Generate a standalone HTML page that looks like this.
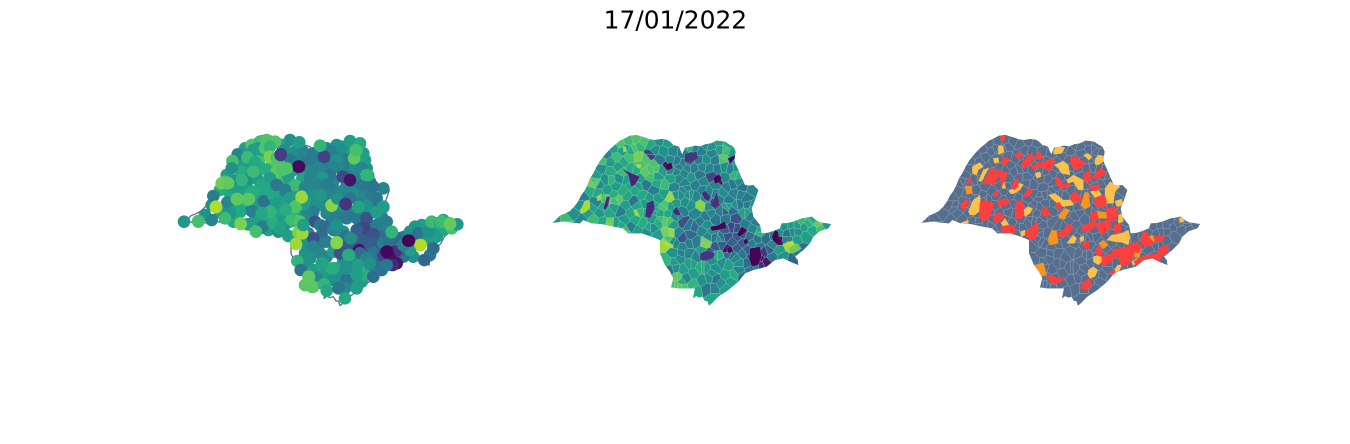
<!DOCTYPE html>
<html lang="en">
<head>
<meta charset="utf-8">
<title>17/01/2022</title>
<style>
html,body{margin:0;padding:0;background:#fff;}
body{width:1350px;height:444px;overflow:hidden;}
svg{display:block;}
text{font-family:"DejaVu Sans","Liberation Sans",sans-serif;}
</style>
</head>
<body>
<svg id="figure" xmlns="http://www.w3.org/2000/svg" width="1350" height="444" viewBox="0 0 1350 444">
  <text x="675.4" y="28.5" text-anchor="middle" font-size="24.9" fill="#000">17/01/2022</text>
  <g id="panel-bubbles"></g>
  <g id="panel-choropleth"></g>
  <g id="panel-status"></g>
</svg>
<script>
// State boundary: east, south (map units)
const stateBoundary = [[22,293],[32,285],[45,272],[60,266],[75,258],[88,245],[100,228],[108,212],[120,195],[128,178],[135,160],[145,145],[155,125],[165,108],[175,95],[188,80],[200,68],[212,58],[225,47],[240,40],[255,32],[275,30],[300,38],[315,43],[330,45],[348,42],[365,44],[375,50],[385,60],[402,65],[407,78],[412,88],[420,68],[435,66],[450,62],[465,64],[480,58],[497,55],[515,47],[540,50],[552,58],[565,65],[572,80],[568,105],[572,118],[578,130],[588,155],[600,180],[612,182],[625,180],[640,195],[635,210],[630,225],[620,250],[625,275],[635,288],[645,300],[650,325],[665,324],[680,320],[705,310],[710,295],[728,294],[745,290],[770,280],[785,278],[800,275],[812,285],[825,292],[858,297],[850,310],[825,318],[805,335],[795,355],[775,375],[750,395],[758,405],[760,420],[740,412],[715,400],[690,405],[665,425],[625,435],[600,445],[580,470],[550,495],[520,515],[500,535],[492,542],[487,528],[480,528],[472,515],[462,518],[454,513],[444,520],[450,490],[425,490],[400,490],[378,487],[385,460],[375,440],[360,420],[345,385],[345,345],[320,335],[290,325],[250,325],[235,310],[205,305],[170,297],[140,295],[115,285],[105,295],[80,293],[60,290],[35,292]];

// Municipalities drawn first (mostly covered): east, south, indicator value (0-1)
const townsInfill = [[225,70,.55],[215,110,.55],[240,125,.55],[270,100,.7],[275,130,.62],[305,120,.72],[335,60,.6],[345,75,.5],[375,80,.5],[400,80,.45],[395,105,.45],[370,135,.55],[335,155,.7],[300,185,.55],[230,185,.55],[200,165,.5],[170,150,.55],[150,195,.62],[180,205,.6],[225,210,.62],[265,215,.6],[295,245,.6],[260,240,.55],[225,250,.55],[195,245,.6],[160,250,.55],[125,240,.5],[105,270,.5],[190,290,.6],[245,300,.6],[255,285,.55],[290,285,.6],[325,265,.6],[330,220,.55],[295,315,.55],[325,320,.5],[365,265,.6],[385,265,.6],[395,245,.55],[345,240,.6],[375,205,.55],[355,175,.6],[410,210,.5],[440,190,.45],[430,85,.42],[470,70,.45],[500,60,.5],[480,105,.4],[450,110,.4],[520,85,.45],[545,75,.55],[580,85,.55],[535,130,.42],[590,130,.5],[465,130,.42],[395,135,.45],[420,125,.42],[435,195,.48],[490,170,.45],[530,180,.45],[565,185,.42],[600,170,.45],[455,240,.5],[420,270,.45],[500,220,.45],[530,205,.45],[570,225,.42],[625,240,.42],[555,260,.3],[485,290,.42],[515,265,.45],[545,260,.42],[590,310,.25],[635,275,.42],[640,310,.45],[595,335,.28],[630,335,.35],[565,335,.25],[545,360,.3],[510,335,.45],[455,330,.35],[415,325,.45],[410,355,.45],[450,355,.42],[470,395,.45],[520,405,.5],[425,385,.42],[405,410,.55],[410,430,.5],[465,445,.55],[500,430,.55],[520,445,.5],[490,465,.5],[430,470,.6],[545,475,.5],[575,470,.55],[600,435,.45],[625,415,.35],[580,390,.4],[625,375,.3],[595,370,.3],[660,365,.38],[705,335,.42],[720,320,.5],[745,345,.45],[760,320,.48],[755,300,.55],[795,305,.55],[820,315,.6],[845,310,.7],[730,395,.5],[780,390,.4],[700,395,.4]];

// Municipalities by region: east, south, indicator value (0-1)
const townsNorthwest = [[245,60,.72],[270,50,.68],[290,45,.72],[315,50,.72],[250,75,.55],[275,75,.6],[262,70,.55],[285,70,.72],[300,65,.65],[203,88,.45],[232,97,.68],[187,108,.7],[300,95,.8],[320,100,.72],[255,112,.6],[290,135,.62],[345,120,.72],[320,140,.75],[215,140,.62],[185,130,.5],[240,160,.5],[265,165,.55],[300,160,.55],[275,180,.6],[165,170,.72],[155,175,.78],[180,178,.48],[205,195,.55],[250,200,.62],[290,195,.6]];
const townsWest = [[130,213,.42],[172,232,.45],[200,222,.72],[235,222,.72],[282,228,.38],[310,210,.6],[320,235,.55],[245,258,.42],[210,262,.6],[180,265,.52],[150,262,.55],[138,245,.87],[165,280,.68],[125,285,.45],[85,288,.68],[42,290,.52],[212,295,.78],[233,298,.55],[258,318,.68],[278,305,.42],[310,295,.62],[300,260,.65],[275,265,.6],[340,280,.55],[345,258,.55]];
const townsNorth = [[360,45,.5],[388,52,.55],[452,63,.62],[485,78,.42],[515,65,.5],[540,48,.55],[570,55,.6],[560,78,.68],[550,103,.72],[585,105,.55],[530,105,.42],[500,105,.5],[462,95,.2],[415,110,.4],[430,115,.42],[332,88,.18],[362,105,.4],[490,125,.45],[510,130,.45],[445,130,.45],[555,125,.5],[575,130,.45],[412,140,.45],[435,145,.45],[480,150,.4],[385,125,.02]];
const townsCentre = [[355,155,.55],[397,160,.58],[420,160,.45],[457,158,.52],[375,180,.68],[320,180,.4],[345,195,.42],[405,188,.45],[437,175,.45],[470,180,.42],[490,195,.42],[518,155,.22],[555,160,.45],[540,165,.05],[595,152,.62],[395,215,.85],[358,220,.55],[425,210,.5],[450,210,.5],[470,215,.45],[510,200,.45],[550,205,.48],[585,205,.45],[605,210,.42],[620,220,.4],[640,190,.45],[610,185,.38],[580,180,.4],[540,220,.4],[378,244,.72],[410,235,.55],[440,232,.5],[485,240,.82],[525,237,.15],[510,245,.48],[568,245,.55],[600,240,.4],[640,245,.5],[580,255,.35],[615,262,.58],[430,260,.42],[470,265,.45],[500,275,.42],[530,280,.4],[560,280,.4],[590,280,.25]];
const townsSouthCentre = [[378,288,.75],[410,272,.45],[360,290,.62],[340,310,.5],[355,333,.55],[395,320,.85],[380,355,.85],[390,343,.72],[400,350,.5],[435,290,.25],[450,300,.4],[465,305,.35],[490,315,.45],[500,300,.5],[520,320,.5],[525,335,.38],[545,338,.4],[430,340,.25],[470,350,.42],[430,365,.45],[500,352,.8],[532,365,.28],[450,385,.45],[490,380,.55],[510,385,.25],[535,390,.62],[405,385,.5],[420,400,.5]];
const townsMetro = [[650,290,.42],[620,300,.42],[580,308,.2],[560,315,.3],[610,328,.25],[665,320,.6],[580,350,.3],[610,355,.3],[640,355,.42],[655,345,.38],[680,340,.35],[567,375,.05],[570,385,.35],[610,385,.4],[590,400,.45],[690,375,.3],[640,392,.2],[650,380,.02],[675,380,.15],[660,400,.05],[680,415,.05],[668,420,.12]];
const townsSouth = [[455,415,.55],[430,435,.55],[485,430,.62],[440,460,.45],[382,408,.65],[392,435,.38],[415,455,.75],[405,480,.72],[430,485,.72],[462,478,.65],[470,497,.6],[510,460,.5],[530,462,.38],[525,490,.45],[505,490,.4],[560,490,.55],[525,520,.6],[585,450,.62],[560,450,.55],[530,430,.5],[550,415,.5],[565,420,.55],[600,415,.5],[610,455,.35],[635,435,.38],[650,420,.4]];
const townsEast = [[735,305,.52],[745,325,.38],[775,345,.55],[750,360,.87],[790,370,.35],[763,405,.33],[800,335,.55],[775,300,.55],[775,320,.5],[785,290,.68],[810,295,.62],[820,285,.6],[840,295,.75],[862,298,.52],[720,375,.55],[700,360,.45],[715,347,.01]];

// Municipalities whose bubbles sit on top of their neighbours: east, south, indicator value (0-1)
const townsForeground = [[230,225,.7],[215,165,.65],[250,140,.68],[175,175,.75],[350,130,.72],[335,135,.72],[395,217,.85],[375,247,.72],[365,285,.68],[390,290,.72],[347,255,.62],[385,322,.8],[397,325,.85],[378,357,.85],[500,354,.82],[485,242,.82],[552,100,.75],[590,150,.65],[557,75,.7],[450,62,.65],[407,480,.74],[425,485,.74],[417,455,.75],[815,290,.68],[840,297,.76],[752,360,.88],[665,322,.65],[258,320,.7],[212,297,.8],[202,222,.75],[237,222,.74],[138,247,.88],[85,290,.7],[542,340,.48],[590,242,.5],[620,262,.55],[502,220,.5],[452,210,.52],[400,300,.55],[330,310,.58],[457,415,.58],[490,430,.62],[565,247,.58],[537,390,.62],[640,247,.55],[387,125,.02],[717,347,.01],[332,90,.18],[527,237,.15],[652,380,.02]];

// Individually traced choropleth areas: value, then boundary coordinates
const choroplethValues = [.01,.01,.02,.01,.01,.01,.02,.02,.01,.1,.12,.1,.12,.12,.14,.16,.16,.88,.88,.87,.86,.88,.9,.78,.86];
const choroplethAreas = [
[362,118,380,112,383,130,370,136,360,128],[505,160,515,150,530,155,528,170,510,177],[548,100,570,90,580,98,565,105,555,118],[495,305,520,300,540,288,545,310,520,315,500,318],[575,330,590,305,607,315,598,325,585,335],[680,335,690,315,700,320,702,338,712,345,700,358,685,350],[545,368,560,365,565,380,550,385],[595,345,608,340,610,355,598,358],[615,370,645,365,650,395,640,420,620,425,612,400],
[230,130,260,145,285,155,270,180,258,185,250,150],[305,235,325,225,330,250,315,280,300,275],[382,260,395,245,408,270,395,272],[175,250,185,215,195,215,190,240,182,255],[470,205,480,197,498,215,490,228,478,222],[505,225,515,200,525,240,510,250,495,240],[420,85,455,80,460,100,435,115,418,110],[465,385,490,375,510,385,505,400,480,408,465,405],
[105,255,120,235,135,235,135,250,120,262,105,262],[235,65,242,65,245,80,235,80],[275,118,288,118,288,128,275,128],[155,215,170,205,168,225,157,228],[340,345,360,352,375,355,385,360,385,370,365,365],[725,350,745,350,745,360,725,360],[730,370,755,355,770,370,750,382,735,385],[265,255,275,255,285,275,270,270]];

// Status areas by alert level: boundary coordinates
const redAreas = [
[255,35,268,28,270,45,260,52],[262,100,280,97,283,108,270,122,262,118],[298,90,312,80,325,90,315,100,305,100],[318,118,335,95,350,82,356,100,345,120,330,128,320,128],[362,90,372,78,385,95,375,105,362,103],[350,125,365,115,390,110,405,100,420,105,412,125,400,142,390,128,365,130,355,138],[465,100,480,92,495,105,515,110,505,122,490,135,475,130,467,115],[505,150,520,135,530,155,520,175,505,165],[530,160,545,140,560,128,575,145,560,155,545,162],[420,160,430,155,445,178,465,175,465,185,440,192,425,180],[520,185,540,180,555,178,550,195,535,198],[205,170,225,135,235,128,250,150,240,180,225,175,210,180],[245,130,278,145,270,165,260,185,255,165],[298,165,310,160,310,185,298,195,290,190],[325,210,340,190,355,195,345,212,330,217],[233,205,245,197,252,210,243,216],[157,160,168,158,170,172,160,175],[465,215,480,195,490,212,505,222,490,232,470,230],[535,225,550,215,570,212,575,230,570,245,545,245,540,235],[245,230,265,220,285,225,275,242,250,245],[195,232,210,225,238,235,232,255,222,280,205,290,192,275],[235,270,255,262,270,275,255,290,235,295],[258,305,280,300,300,305,300,325,260,322],[300,235,320,225,328,245,322,280,300,282],[380,255,390,243,407,270,395,275,380,270],[135,245,150,222,162,228,155,245,145,255],[420,235,435,232,440,250,428,255],[335,318,355,300,368,288,370,320,360,345,340,340,332,335],[425,325,445,315,460,295,475,305,465,325,450,335,430,335],[500,305,520,295,540,285,545,300,530,315,510,320,498,320],[500,355,525,345,520,375,505,365],[525,265,545,258,550,280,540,290,528,285],[575,250,600,245,610,260,600,290,580,290,575,270],[545,295,575,285,590,300,575,320,560,330,550,315],[595,300,615,295,620,315,600,330],[540,368,555,365,565,385,555,395,545,390],[560,395,590,385,595,405,575,420,560,422],[610,370,640,365,660,370,655,395,640,420,620,425,610,400],[640,360,665,350,680,365,670,385,645,375],[675,345,685,318,695,320,705,340,720,355,695,365,680,360],[715,335,750,330,745,345,725,352],[725,380,745,360,765,368,755,385,735,395],[680,395,720,385,740,395,735,408,695,405],[590,375,610,370,610,395,590,395],[655,410,680,395,690,405,665,420],[505,470,525,460,530,480,515,497,495,490],[395,450,412,450,430,460,450,455,440,470,415,478,400,465],[585,440,600,435,600,455,590,460]];
const yellowAreas = [
[250,62,265,62,267,82,250,88],[235,100,250,98,252,112,238,115],[172,125,195,112,205,125,190,135,185,150,172,145],[190,168,205,135,222,128,210,150,200,170],[258,155,268,170,272,190,262,190],[282,195,300,190,312,175,325,178,315,195,295,207,285,205],[360,145,375,140,378,155,365,160],[415,78,425,63,450,68,440,85,417,88],[418,120,445,108,460,120,465,150,440,145,430,130],[455,165,475,150,505,165,505,195,490,195,475,170,460,175],[505,90,518,85,532,95,522,105],[540,102,550,90,578,95,565,110,550,120,540,118],[570,190,585,170,605,180,615,185,600,200,595,235,575,235,570,215],[525,200,550,195,560,210,540,218],[400,210,420,205,445,225,470,225,475,240,445,245,420,230],[160,260,170,235,175,225,195,210,197,255,180,270,165,270],[135,295,160,285,160,298,140,298],[258,295,270,280,282,300,265,305],[325,255,340,245,353,250,345,265,330,275],[315,320,330,315,330,330,320,335],[455,355,475,330,485,340,478,355],[493,340,505,330,507,345,498,350],[600,228,620,222,625,240,605,245],[610,270,622,265,625,290,610,295],[575,345,590,330,620,325,640,315,645,335,640,360,620,352,600,350],[535,395,555,390,565,405,550,420,535,410],[520,435,535,425,548,435,540,455,525,460,518,450],[595,440,608,420,620,420,610,445],[650,410,665,400,670,410,655,422],[792,280,805,275,807,290,795,293]];
const orangeAreas = [
[150,183,170,183,172,205,155,208],[497,240,510,200,522,205,525,245,510,252],[430,270,450,250,465,255,448,282,435,280],[545,258,575,262,575,280,550,280],[398,345,410,315,425,318,430,355,405,360],[358,420,385,413,395,450,380,455],[550,355,565,345,580,360,565,372],[655,380,668,365,680,372,672,400,658,395],[700,335,715,330,720,350,708,353]];
</script>
<script>
const svgNS = 'http://www.w3.org/2000/svg';
const towns = [].concat(townsInfill, townsNorthwest, townsWest, townsNorth, townsCentre, townsSouthCentre, townsMetro, townsSouth, townsEast, townsForeground);
const panelOrigin = [170, 539, 908];
const mapScale = 1 / 3;
const boundaryDatum = 18;
const statusDatum = 21;
const xAxis = (panel, east, datum) => panelOrigin[panel] + (east + datum) * mapScale;
const yAxis = south => 125 + south * mapScale;

const viridisStops = ['#440154','#482475','#414487','#355f8d','#2a788e','#21918c','#22a884','#44bf70','#7ad151','#bddf26','#fde725'];
function hexRgb(h) {
  return [1, 3, 5].map(i => parseInt(h.substr(i, 2), 16));
}
function viridis(v) {
  const t = Math.max(0, Math.min(1, v)) * (viridisStops.length - 1);
  const i = Math.min(viridisStops.length - 2, Math.floor(t));
  const a = hexRgb(viridisStops[i]);
  const b = hexRgb(viridisStops[i + 1]);
  const f = t - i;
  return 'rgb(' + a.map((c, k) => Math.round(c + (b[k] - c) * f)).join(',') + ')';
}
function make(tag, parent, attrs) {
  const el = document.createElementNS(svgNS, tag);
  Object.keys(attrs).forEach(k => el.setAttribute(k, attrs[k]));
  parent.appendChild(el);
  return el;
}
function boundaryPoints(panel) {
  return stateBoundary.map(p => xAxis(panel, p[0], boundaryDatum).toFixed(2) + ',' + yAxis(p[1]).toFixed(2)).join(' ');
}
function areaPoints(panel, flat, datum) {
  const out = [];
  for (let i = 0; i < flat.length; i += 2) {
    out.push(xAxis(panel, flat[i], datum).toFixed(2) + ',' + yAxis(flat[i + 1]).toFixed(2));
  }
  return out.join(' ');
}
// Voronoi cell of each town, in map units, clipped later to the state boundary
function clipHalfPlane(poly, ax, ay, bx, by) {
  const mx = (ax + bx) / 2, my = (ay + by) / 2, nx = bx - ax, ny = by - ay;
  const side = p => (p[0] - mx) * nx + (p[1] - my) * ny;
  const out = [];
  for (let i = 0; i < poly.length; i++) {
    const p = poly[i], q = poly[(i + 1) % poly.length];
    const sp = side(p), sq = side(q);
    if (sp <= 0) out.push(p);
    if ((sp < 0 && sq > 0) || (sp > 0 && sq < 0)) {
      const t = sp / (sp - sq);
      out.push([p[0] + (q[0] - p[0]) * t, p[1] + (q[1] - p[1]) * t]);
    }
  }
  return out;
}
const townCells = towns.map((town, i) => {
  let poly = [[-50, -50], [950, -50], [950, 620], [-50, 620]];
  towns.forEach((other, j) => {
    if (i !== j && poly.length && (other[0] !== town[0] || other[1] !== town[1])) {
      poly = clipHalfPlane(poly, town[0], town[1], other[0], other[1]);
    }
  });
  return poly;
});
function cellPoints(panel, poly) {
  return poly.map(p => xAxis(panel, p[0], 0).toFixed(2) + ',' + yAxis(p[1]).toFixed(2)).join(' ');
}

const defs = make('defs', document.getElementById('figure'), {});
[1, 2].forEach(panel => {
  const cp = make('clipPath', defs, { id: 'state-clip-' + panel });
  make('polygon', cp, { points: boundaryPoints(panel) });
});

// Panel 1: outline and bubbles
const bubbleGroup = document.getElementById('panel-bubbles');
const outlineOne = make('polygon', bubbleGroup, { points: boundaryPoints(0), fill: 'none', stroke: '#5a7090', 'stroke-width': 1.3, 'stroke-linejoin': 'round' });


towns.forEach(t => {
  const dot = make('circle', bubbleGroup, { cx: xAxis(0, t[0], 0).toFixed(2), cy: yAxis(t[1]).toFixed(2), r: 6.3, fill: viridis(t[2]) });
  
  
});

// Panel 2: choropleth
const choroGroup = document.getElementById('panel-choropleth');
const choroClip = make('g', choroGroup, { 'clip-path': 'url(#state-clip-1)' });
make('polygon', choroClip, { points: boundaryPoints(1), fill: viridis(.48) });
townCells.forEach((poly, i) => {
  const cell = make('polygon', choroClip, { points: cellPoints(1, poly), fill: viridis(towns[i][2]), stroke: '#9fcfc8', 'stroke-width': .45, 'stroke-opacity': .75 });
  
  
});
choroplethAreas.forEach((flat, i) => {
  const area = make('polygon', choroClip, { points: areaPoints(1, flat, boundaryDatum), fill: viridis(choroplethValues[i]), stroke: '#9fcfc8', 'stroke-width': .35, 'stroke-opacity': .6 });
  
  
});

// Panel 3: status
const statusGroup = document.getElementById('panel-status');
const statusClip = make('g', statusGroup, { 'clip-path': 'url(#state-clip-2)' });
make('polygon', statusClip, { points: boundaryPoints(2), fill: '#566f8e' });
townCells.forEach(poly => {
  const cell = make('polygon', statusClip, { points: cellPoints(2, poly), fill: '#566f8e', stroke: '#a3b2c4', 'stroke-width': .45, 'stroke-opacity': .75 });
  
  
});
function drawStatus(list, colour) {
  list.forEach(flat => {
    const area = make('polygon', statusClip, { points: areaPoints(2, flat, statusDatum), fill: colour, stroke: colour, 'stroke-width': .3 });
    
    
  });
}
drawStatus(yellowAreas, '#fcc14b');
drawStatus(orangeAreas, '#f8941f');
drawStatus(redAreas, '#fe3f3f');
</script>
</body>
</html>
